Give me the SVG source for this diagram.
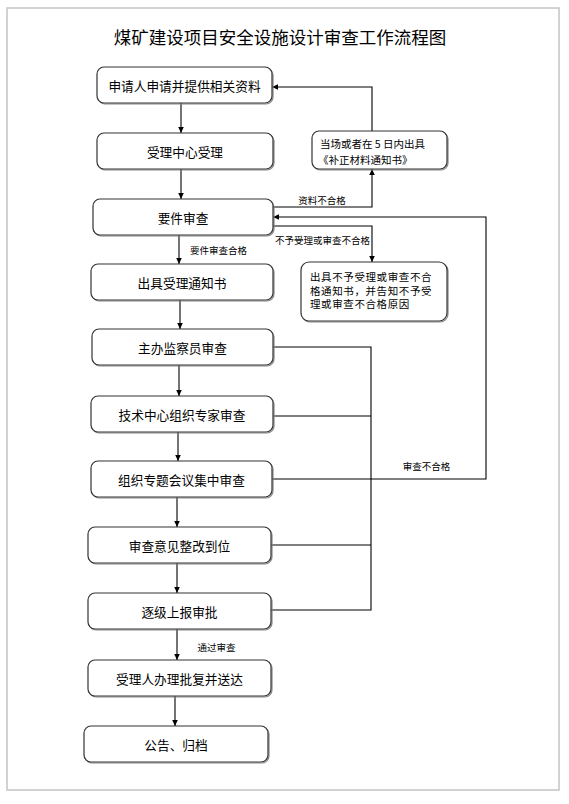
<svg xmlns="http://www.w3.org/2000/svg" width="569" height="804" viewBox="0 0 569 804">
<defs>
<marker id="ah" markerWidth="8" markerHeight="8" refX="7" refY="4" orient="auto" markerUnits="userSpaceOnUse">
<path d="M1,1.2 L7,4 L1,6.8 Z" fill="#000"/>
</marker>
<style>
.box{fill:#fff;stroke:#333;stroke-width:1.2}
.sh{fill:none;stroke:#888;stroke-width:1.2}
.t{font-family:"Noto Sans CJK SC","Noto Sans CJK JP",sans-serif;font-size:12.7px;fill:#000;text-anchor:middle;dominant-baseline:central}
.s{font-family:"Noto Sans CJK SC","Noto Sans CJK JP",sans-serif;font-size:9.5px;fill:#000;text-anchor:middle;dominant-baseline:central}
.m{font-family:"Noto Sans CJK SC","Noto Sans CJK JP",sans-serif;font-size:10.5px;fill:#000;dominant-baseline:central}
.c{fill:none;stroke:#000;stroke-width:1.1}
</style>
</defs>
<rect x="0" y="0" width="569" height="804" fill="#fff"/>
<rect x="7" y="8" width="552" height="782" fill="#fff" stroke="#c4c4c4" stroke-width="1.5"/>
<text x="280" y="36" font-family="Noto Sans CJK SC, sans-serif" font-size="17.5" text-anchor="middle" dominant-baseline="central">煤矿建设项目安全设施设计审查工作流程图</text>

<g id="connectors">
<path class="c" d="M181,103 V133" marker-end="url(#ah)"/>
<path class="c" d="M181,169 V199" marker-end="url(#ah)"/>
<path class="c" d="M273,207 H372 V169" marker-end="url(#ah)"/>
<path class="c" d="M372,131 V87 H272" marker-end="url(#ah)"/>
<path class="c" d="M273,226 H372 V262" marker-end="url(#ah)"/>
<path class="c" d="M272,479 H486 V217 H273" marker-end="url(#ah)"/>
<path class="c" d="M273,347 H371 V610 H271"/>
<path class="c" d="M273,416 H371"/>
<path class="c" d="M271,545 H371"/>
<path class="c" d="M179,235 V264" marker-end="url(#ah)"/>
<path class="c" d="M180,300 V329" marker-end="url(#ah)"/>
<path class="c" d="M179,365 V396" marker-end="url(#ah)"/>
<path class="c" d="M178,432 V461" marker-end="url(#ah)"/>
<path class="c" d="M177,497 V527" marker-end="url(#ah)"/>
<path class="c" d="M177,563 V593" marker-end="url(#ah)"/>
<path class="c" d="M177,629 V660" marker-end="url(#ah)"/>
<path class="c" d="M175,696 V726" marker-end="url(#ah)"/>
<text class="s" x="322" y="200">资料不合格</text>
<text class="s" x="322.5" y="240">不予受理或审查不合格</text>
<text class="s" x="218.5" y="250">要件审查合格</text>
<text class="s" x="426.5" y="466">审查不合格</text>
<text class="s" x="216.5" y="647">通过审查</text>
</g>

<g id="n1"><rect class="sh" x="98" y="68" width="175" height="36" rx="7"/><rect class="box" x="97" y="67" width="175" height="36" rx="7"/><text class="t" x="184.5" y="85">申请人申请并提供相关资料</text></g>
<g id="n2"><rect class="sh" x="98" y="134" width="176" height="36" rx="7"/><rect class="box" x="97" y="133" width="176" height="36" rx="7"/><text class="t" x="185" y="151">受理中心受理</text></g>
<g id="n3"><rect class="sh" x="94" y="200" width="180" height="36" rx="7"/><rect class="box" x="93" y="199" width="180" height="36" rx="7"/><text class="t" x="183" y="217">要件审查</text></g>
<g id="n4"><rect class="sh" x="92" y="265" width="182" height="36" rx="7"/><rect class="box" x="91" y="264" width="182" height="36" rx="7"/><text class="t" x="182" y="282">出具受理通知书</text></g>
<g id="n5"><rect class="sh" x="93" y="330" width="181" height="36" rx="7"/><rect class="box" x="92" y="329" width="181" height="36" rx="7"/><text class="t" x="182.5" y="347">主办监察员审查</text></g>
<g id="n6"><rect class="sh" x="92" y="397" width="182" height="36" rx="7"/><rect class="box" x="91" y="396" width="182" height="36" rx="7"/><text class="t" x="182" y="414">技术中心组织专家审查</text></g>
<g id="n7"><rect class="sh" x="92" y="462" width="181" height="36" rx="7"/><rect class="box" x="91" y="461" width="181" height="36" rx="7"/><text class="t" x="181.5" y="479">组织专题会议集中审查</text></g>
<g id="n8"><rect class="sh" x="89" y="528" width="183" height="36" rx="7"/><rect class="box" x="88" y="527" width="183" height="36" rx="7"/><text class="t" x="179.5" y="545">审查意见整改到位</text></g>
<g id="n9"><rect class="sh" x="89" y="594" width="183" height="36" rx="7"/><rect class="box" x="88" y="593" width="183" height="36" rx="7"/><text class="t" x="179.5" y="611">逐级上报审批</text></g>
<g id="n10"><rect class="sh" x="89" y="661" width="183" height="36" rx="7"/><rect class="box" x="88" y="660" width="183" height="36" rx="7"/><text class="t" x="179.5" y="678">受理人办理批复并送达</text></g>
<g id="n11"><rect class="sh" x="85" y="727" width="184" height="36" rx="7"/><rect class="box" x="84" y="726" width="184" height="36" rx="7"/><text class="t" x="176" y="744">公告、归档</text></g>
<g id="n12"><rect class="sh" x="313" y="132" width="135" height="38" rx="7"/><rect class="box" x="312" y="131" width="135" height="38" rx="7"/><text class="m" x="320" y="143">当场或者在 5 日内出具</text><text class="m" x="318" y="159">《补正材料通知书》</text></g>
<g id="n13"><rect class="sh" x="302" y="263" width="146" height="59" rx="8"/><rect class="box" x="301" y="262" width="146" height="59" rx="8"/><text class="m" x="310" y="276" letter-spacing="0.6">出具不予受理或审查不合</text><text class="m" x="310" y="290" letter-spacing="0.6">格通知书，并告知不予受</text><text class="m" x="310" y="303.5" letter-spacing="0.6">理或审查不合格原因</text></g>
</svg>
